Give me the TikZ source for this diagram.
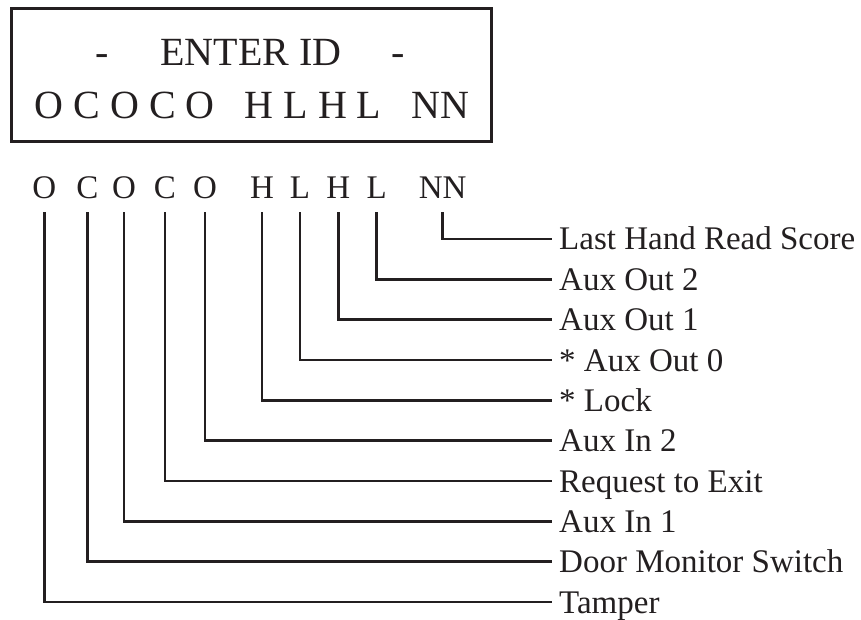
\documentclass[tikz,border=0pt]{standalone}
\usepackage{fontspec}
\setmainfont{Liberation Serif}
\definecolor{ink}{HTML}{231F20}
\begin{document}
\begin{tikzpicture}[x=1pt,y=-1pt,
  wire/.style={draw=ink,line width=2.6pt},
  boxtxt/.style={inner sep=0pt,anchor=base,text=ink,font=\fontsize{40}{40}\selectfont},
  letter/.style={inner sep=0pt,anchor=base,text=ink,text depth=0pt,font=\fontsize{33}{33}\selectfont},
  lab/.style={inner sep=0pt,anchor=west,text=ink,text height=22pt,text depth=0pt,font=\fontsize{33}{33}\selectfont}]
\useasboundingbox (0,0) rectangle (861,620);
% display box
\node (lcd) [draw=ink,line width=3pt,minimum width=479.5pt,minimum height=132.5pt,inner sep=0pt,outer sep=0pt] at (251.25,75.25) {};
\node (d1) [boxtxt] at (102.5,66) {-};
\node (enter) [boxtxt] at (251,66) {ENTER ID};
\node (d2) [boxtxt] at (398,66) {-};
\node (code) [boxtxt] at (252,119) {O C O C O\ \ \ H L H L\ \ \ NN};
% letters
\foreach \x/\t/\n in {44.3/O/o1, 87.3/C/c1, 124/O/o2, 165/C/c2, 205/O/o3, 262/H/h1, 300/L/l1, 338.3/H/h2, 376.7/L/l2, 442.7/NN/nn}
  \node (\n) [letter] at (\x,199) {\t};
% labels
\node (t0) [lab] at (559,239) {Last Hand Read Score};
\node (t1) [lab] at (559,279.3) {Aux Out 2};
\node (t2) [lab] at (559,319.7) {Aux Out 1};
\node (t3) [lab] at (559,360) {* Aux Out 0};
\node (t4) [lab] at (559,400.3) {* Lock};
\node (t5) [lab] at (559,440.7) {Aux In 2};
\node (t6) [lab] at (559,481) {Request to Exit};
\node (t7) [lab] at (559,521.3) {Aux In 1};
\node (t8) [lab] at (559,561.7) {Door Monitor Switch};
\node (t9) [lab] at (559,602) {Tamper};
% connectors
\foreach \a/\b in {nn/t0, l2/t1, h2/t2, l1/t3, h1/t4, o3/t5, c2/t6, o2/t7, c1/t8, o1/t9}
  \draw[wire] ([yshift=-13pt]\a.south) |- ([xshift=-7.3pt]\b.west);
\end{tikzpicture}
\end{document}
